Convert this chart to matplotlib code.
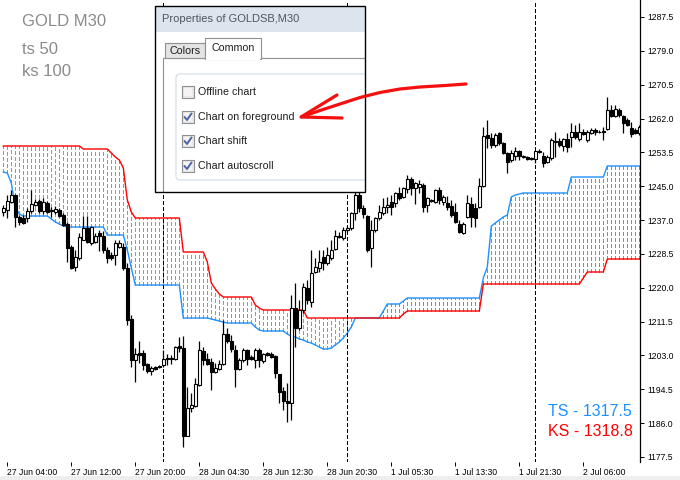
import numpy as np
import matplotlib.pyplot as plt
from matplotlib.patches import Rectangle, FancyBboxPatch

plt.rcParams['font.family'] = ['Liberation Sans', 'DejaVu Sans']
plt.rcParams['lines.scale_dashes'] = False

# GOLD M30 candles, bar index 0..159
opens = [1238.75, 1239.25, 1241.25, 1243.0, 1237.5, 1237.25, 1237.25, 1239.0, 1240.5, 1241.5,
         1239.0, 1241.0, 1239.0, 1238.75, 1239.25, 1238.0, 1235.75, 1230.0, 1225.0, 1227.25,
         1231.75, 1234.75, 1231.0, 1231.25, 1233.5, 1232.75, 1229.25, 1228.0, 1228.0, 1230.0,
         1230.0, 1224.75, 1212.0, 1201.75, 1203.5, 1203.5, 1200.75, 1199.0, 1200.0, 1200.25,
         1200.5, 1202.25, 1202.25, 1202.0, 1205.25, 1204.75, 1182.75, 1189.75, 1190.25, 1195.5,
         1204.0, 1202.0, 1201.25, 1198.75, 1199.5, 1200.75, 1208.25, 1206.5, 1204.25, 1199.5,
         1201.75, 1204.25, 1202.5, 1201.75, 1204.25, 1201.5, 1203.5, 1203.25, 1202.75, 1198.25,
         1194.0, 1191.5, 1191.0, 1214.75, 1209.75, 1214.25, 1219.75, 1216.25, 1223.75, 1224.75,
         1227.5, 1226.0, 1227.25, 1229.5, 1232.75, 1232.25, 1234.25, 1234.75, 1238.5, 1243.0,
         1239.75, 1237.75, 1229.75, 1234.25, 1237.25, 1238.5, 1240.0, 1241.25, 1241.0, 1243.5,
         1242.5, 1244.5, 1247.0, 1244.75, 1245.0, 1245.5, 1240.5, 1241.75, 1241.25, 1244.25,
         1241.25, 1241.0, 1240.25, 1238.75, 1235.75, 1233.5, 1237.5, 1240.75, 1239.75, 1240.0,
         1245.25, 1258.0, 1257.25, 1255.5, 1258.5, 1256.0, 1253.5, 1251.75, 1252.75, 1254.0,
         1252.75, 1252.5, 1252.0, 1252.0, 1254.0, 1252.75, 1251.25, 1252.25, 1256.5, 1256.5,
         1255.25, 1257.0, 1257.5, 1258.75, 1257.0, 1258.75, 1256.75, 1258.5, 1259.25, 1258.75,
         1259.0, 1259.5, 1264.25, 1262.75, 1264.25, 1262.75, 1261.75, 1259.75, 1259.25, 1258.5]
highs = [1240.5, 1243.0, 1244.25, 1243.25, 1238.0, 1238.0, 1239.75, 1244.25, 1242.0, 1242.0,
         1242.25, 1241.5, 1240.0, 1240.25, 1239.75, 1238.5, 1236.25, 1230.5, 1229.25, 1233.5,
         1237.75, 1237.75, 1235.25, 1233.5, 1234.25, 1234.0, 1230.0, 1228.75, 1231.75, 1231.75,
         1231.0, 1226.0, 1213.0, 1204.75, 1206.5, 1204.25, 1201.0, 1200.25, 1200.25, 1200.5,
         1204.25, 1203.25, 1203.0, 1205.25, 1207.5, 1207.75, 1195.0, 1193.5, 1197.25, 1206.5,
         1205.0, 1203.5, 1202.25, 1201.0, 1201.75, 1211.75, 1209.75, 1208.0, 1205.5, 1202.25,
         1204.75, 1204.5, 1203.0, 1204.75, 1204.75, 1203.5, 1203.75, 1203.75, 1203.0, 1198.25,
         1195.0, 1196.0, 1218.0, 1221.0, 1216.75, 1221.0, 1221.75, 1229.25, 1227.25, 1229.25,
         1229.25, 1230.0, 1231.75, 1234.25, 1233.75, 1235.0, 1235.25, 1238.75, 1245.5, 1245.25,
         1240.5, 1238.0, 1236.75, 1237.5, 1240.5, 1242.25, 1242.5, 1243.0, 1243.75, 1245.0,
         1245.0, 1248.0, 1247.5, 1246.25, 1246.75, 1246.0, 1242.5, 1242.0, 1244.5, 1245.0,
         1243.0, 1242.75, 1241.75, 1241.0, 1236.75, 1236.25, 1243.0, 1242.5, 1241.0, 1247.25,
         1260.0, 1261.75, 1258.5, 1258.5, 1258.75, 1256.25, 1253.75, 1254.25, 1255.0, 1254.25,
         1253.0, 1252.75, 1252.5, 1254.25, 1254.5, 1253.75, 1253.0, 1257.25, 1258.75, 1257.25,
         1257.25, 1258.5, 1261.0, 1260.5, 1261.0, 1259.5, 1259.25, 1259.75, 1259.75, 1259.25,
         1260.0, 1267.5, 1265.5, 1265.5, 1264.75, 1263.0, 1262.25, 1261.25, 1259.75, 1260.5]
lows = [1237.75, 1237.25, 1241.0, 1235.0, 1235.5, 1235.75, 1236.25, 1238.5, 1240.25, 1238.5,
        1238.25, 1238.5, 1237.5, 1238.25, 1237.5, 1235.25, 1226.25, 1224.5, 1224.0, 1226.75,
        1231.75, 1231.0, 1230.5, 1231.0, 1229.0, 1228.5, 1226.0, 1226.75, 1225.5, 1229.75,
        1224.25, 1210.5, 1200.0, 1196.25, 1201.0, 1199.25, 1198.5, 1198.0, 1199.25, 1199.75,
        1200.0, 1200.5, 1200.75, 1201.75, 1203.75, 1180.0, 1182.75, 1188.75, 1190.0, 1195.25,
        1200.5, 1200.5, 1194.25, 1198.5, 1199.25, 1200.5, 1206.0, 1203.75, 1195.0, 1199.25,
        1201.25, 1200.5, 1201.75, 1199.75, 1200.0, 1201.0, 1202.75, 1202.25, 1197.25, 1191.0,
        1189.25, 1186.25, 1186.75, 1205.0, 1209.25, 1213.5, 1215.75, 1215.0, 1223.5, 1223.75,
        1224.25, 1225.5, 1226.75, 1229.25, 1232.25, 1231.75, 1233.75, 1234.25, 1236.75, 1238.75,
        1237.25, 1228.75, 1225.0, 1233.75, 1236.75, 1238.0, 1238.5, 1238.0, 1240.0, 1241.75,
        1242.25, 1243.5, 1243.0, 1240.75, 1243.5, 1238.75, 1238.75, 1241.25, 1241.0, 1240.75,
        1240.5, 1239.25, 1237.5, 1236.0, 1233.5, 1233.25, 1237.25, 1235.0, 1235.0, 1239.75,
        1245.0, 1254.75, 1254.75, 1255.0, 1255.5, 1253.25, 1248.5, 1251.25, 1251.75, 1251.75,
        1252.25, 1251.75, 1251.75, 1251.0, 1253.5, 1250.0, 1251.0, 1251.75, 1252.5, 1255.0,
        1254.0, 1253.75, 1255.0, 1257.0, 1256.5, 1258.0, 1256.25, 1258.25, 1258.0, 1258.5,
        1256.75, 1259.25, 1262.5, 1262.5, 1262.5, 1258.5, 1260.25, 1257.5, 1258.25, 1258.0]
closes = [1239.75, 1241.5, 1243.0, 1237.5, 1236.25, 1236.0, 1239.0, 1240.75, 1241.25, 1239.0,
          1241.25, 1238.75, 1239.25, 1239.5, 1237.75, 1235.5, 1229.75, 1224.75, 1227.5, 1232.5,
          1234.75, 1231.25, 1235.0, 1232.75, 1232.75, 1229.25, 1227.25, 1227.25, 1231.0, 1231.0,
          1224.75, 1211.75, 1201.75, 1203.25, 1203.0, 1200.5, 1199.0, 1199.75, 1199.5, 1200.0,
          1202.0, 1202.0, 1202.0, 1205.0, 1204.75, 1182.75, 1189.75, 1190.5, 1195.75, 1204.25,
          1201.75, 1200.75, 1198.75, 1199.75, 1200.75, 1208.25, 1206.5, 1204.5, 1199.5, 1201.75,
          1204.25, 1202.0, 1202.0, 1204.25, 1201.75, 1203.25, 1203.0, 1202.5, 1198.5, 1193.75,
          1191.5, 1191.0, 1214.75, 1209.75, 1214.25, 1220.0, 1216.75, 1223.5, 1225.0, 1226.25,
          1226.0, 1228.0, 1229.25, 1232.75, 1232.5, 1234.25, 1234.75, 1238.5, 1243.0, 1239.75,
          1238.25, 1229.25, 1234.25, 1237.25, 1238.75, 1240.0, 1240.5, 1240.0, 1243.5, 1242.25,
          1244.75, 1247.0, 1244.75, 1246.0, 1245.75, 1240.0, 1242.25, 1241.5, 1244.25, 1241.75,
          1242.5, 1240.0, 1238.0, 1236.25, 1233.75, 1235.75, 1241.0, 1237.5, 1237.25, 1245.25,
          1257.75, 1257.25, 1255.5, 1258.0, 1256.0, 1253.5, 1251.25, 1253.5, 1254.0, 1252.75,
          1252.5, 1252.0, 1252.25, 1254.0, 1253.75, 1251.0, 1252.5, 1256.75, 1256.25, 1255.5,
          1257.0, 1255.0, 1258.75, 1257.5, 1258.75, 1258.25, 1258.75, 1259.25, 1258.75, 1258.75,
          1258.75, 1264.25, 1262.75, 1264.5, 1263.0, 1261.0, 1260.5, 1258.25, 1258.5, 1260.0]

# indicator lines (ts 50 / ks 100)
ts_line = [1248.75, 1248.5, 1246.0, 1239.75, 1238.25, 1237.75, 1237.75, 1237.75, 1237.75, 1237.75,
           1237.75, 1237.75, 1237.0, 1236.25, 1235.75, 1235.25, 1235.0, 1235.0, 1235.0, 1235.0,
           1235.0, 1235.0, 1235.0, 1235.0, 1235.0, 1235.0, 1233.0, 1233.0, 1233.0, 1233.0,
           1233.0, 1229.25, 1224.75, 1220.5, 1220.5, 1220.5, 1220.5, 1220.5, 1220.5, 1220.5,
           1220.5, 1220.5, 1220.5, 1220.5, 1220.5, 1212.25, 1212.25, 1212.25, 1212.25, 1212.25,
           1212.25, 1212.25, 1212.0, 1211.75, 1211.5, 1211.25, 1211.0, 1211.0, 1211.0, 1211.0,
           1211.0, 1211.0, 1211.0, 1210.0, 1209.25, 1209.0, 1209.0, 1209.0, 1209.0, 1209.0,
           1209.0, 1208.25, 1207.75, 1207.5, 1207.0, 1206.75, 1206.25, 1206.0, 1205.5, 1205.0,
           1204.5, 1204.5, 1204.75, 1205.5, 1206.25, 1207.25, 1208.5, 1210.0, 1212.25, 1212.25,
           1212.25, 1212.25, 1212.25, 1212.25, 1212.25, 1214.0, 1215.75, 1215.75, 1215.75, 1215.75,
           1216.5, 1217.25, 1217.25, 1217.25, 1217.25, 1217.25, 1217.25, 1217.25, 1217.25, 1217.25,
           1217.25, 1217.25, 1217.25, 1217.25, 1217.25, 1217.25, 1217.25, 1217.25, 1217.25, 1217.25,
           1222.25, 1225.0, 1235.25, 1236.0, 1236.75, 1237.5, 1238.0, 1242.5, 1243.0, 1243.25,
           1243.5, 1243.5, 1243.5, 1243.5, 1243.5, 1243.5, 1243.5, 1243.5, 1243.5, 1243.5,
           1243.5, 1243.5, 1247.5, 1247.5, 1247.5, 1247.5, 1247.5, 1247.5, 1247.5, 1247.5,
           1247.5, 1250.25, 1250.25, 1250.25, 1250.25, 1250.25, 1250.25, 1250.25, 1250.25, 1250.25]
ks_line = [1255.25, 1255.25, 1255.25, 1255.25, 1255.25, 1255.25, 1255.25, 1255.25, 1255.25, 1255.25,
           1255.25, 1255.25, 1255.25, 1255.25, 1255.25, 1255.25, 1255.25, 1255.25, 1255.25, 1255.25,
           1254.5, 1254.5, 1254.5, 1254.5, 1254.5, 1254.5, 1254.5, 1253.5, 1252.5, 1251.75,
           1249.75, 1241.75, 1238.75, 1237.25, 1237.25, 1237.25, 1237.25, 1237.25, 1237.25, 1237.25,
           1237.25, 1237.25, 1237.25, 1237.25, 1237.25, 1228.75, 1228.75, 1228.75, 1228.75, 1228.75,
           1228.75, 1226.25, 1221.0, 1219.5, 1218.25, 1217.5, 1217.5, 1217.5, 1217.5, 1217.5,
           1217.5, 1217.5, 1217.5, 1215.5, 1214.75, 1214.25, 1214.25, 1214.25, 1214.25, 1214.25,
           1214.25, 1214.25, 1214.25, 1214.25, 1214.25, 1214.25, 1212.25, 1212.25, 1212.25, 1212.25,
           1212.25, 1212.25, 1212.25, 1212.25, 1212.25, 1212.25, 1212.25, 1212.25, 1212.25, 1212.25,
           1212.25, 1212.25, 1212.25, 1212.25, 1212.25, 1212.25, 1212.25, 1212.25, 1212.25, 1212.25,
           1213.25, 1214.0, 1214.0, 1214.0, 1214.0, 1214.0, 1214.0, 1214.0, 1214.0, 1214.0,
           1214.0, 1214.0, 1214.0, 1214.0, 1214.0, 1214.0, 1214.0, 1214.0, 1214.0, 1214.0,
           1220.75, 1220.75, 1220.75, 1220.75, 1220.75, 1220.75, 1220.75, 1220.75, 1220.75, 1220.75,
           1220.75, 1220.75, 1220.75, 1220.75, 1220.75, 1220.75, 1220.75, 1220.75, 1220.75, 1220.75,
           1220.75, 1220.75, 1220.75, 1220.75, 1220.75, 1222.25, 1223.75, 1223.75, 1223.75, 1223.75,
           1223.75, 1227.0, 1227.0, 1227.0, 1227.0, 1227.0, 1227.0, 1227.0, 1227.0, 1227.0]

separators = [40, 86, 133]
xtick_pos = [1, 17, 33, 49, 65, 81, 97, 113, 129, 145]
xtick_labels = ['27 Jun 04:00', '27 Jun 12:00', '27 Jun 20:00', '28 Jun 04:30', '28 Jun 12:30',
                '28 Jun 20:30', '1 Jul 05:30', '1 Jul 13:30', '1 Jul 21:30', '2 Jul 06:00']
ytick_labels = ['1287.5', '1279.0', '1270.5', '1262.0', '1253.5', '1245.0', '1237.0',
                '1228.5', '1220.0', '1211.5', '1203.0', '1194.5', '1186.0', '1177.5']

fig = plt.figure(figsize=(6.8, 4.8), dpi=100)
ax = fig.add_axes([0, 18 / 480, 640 / 680, 462 / 480])
ax.set_xlim(-0.83, 159.17)
ax.set_ylim(1176.25, 1291.75)

x = np.arange(len(opens))
o = np.array(opens); h = np.array(highs); l = np.array(lows); c = np.array(closes)
ts = np.array(ts_line); ks = np.array(ks_line)

# dotted fill between the two lines
red_up = ks > ts
blue_up = ts > ks
ax.vlines(x[red_up], ts[red_up], ks[red_up], colors='#EE68A6', lw=0.75,
          linestyles=(0, (2.2, 1.5)), antialiased=False, zorder=1)
ax.vlines(x[blue_up], ks[blue_up], ts[blue_up], colors='#6690E2', lw=0.75,
          linestyles=(0, (2.2, 1.5)), antialiased=False, zorder=1)

ax.plot(x, ts, color='#1E90FF', lw=1.0, zorder=2)
ax.plot(x, ks, color='#FF0000', lw=1.0, zorder=2)

# day separators
ax.vlines(separators, 1176.25, 1291.75, colors='black', lw=0.75,
          linestyles=(0, (2.2, 1.5)), antialiased=False, zorder=2.5)

# candles
ax.vlines(x, l, h, colors='black', lw=0.9, zorder=3)
up = c >= o
ax.bar(x[up], c[up] - o[up], bottom=o[up], width=0.6, facecolor='white',
       edgecolor='black', lw=0.8, zorder=4)
ax.bar(x[~up], c[~up] - o[~up], bottom=o[~up], width=0.6, facecolor='black',
       edgecolor='black', lw=0.8, zorder=4)

for s in ['left', 'top', 'bottom']:
    ax.spines[s].set_visible(False)
ax.spines['right'].set_linewidth(0.9)

ax.yaxis.tick_right()
ax.set_yticks(np.linspace(1287.5, 1177.5, len(ytick_labels)))
ax.set_yticklabels(ytick_labels)
ax.set_xticks(xtick_pos)
ax.set_xticklabels(xtick_labels, ha='left')
ax.tick_params(axis='y', direction='out', length=3, width=0.7, labelsize=6.2, pad=2)
ax.tick_params(axis='x', direction='out', length=3, width=0.7, labelsize=6.2, pad=1.5)

# overlay in pixel units for captions, dialog and arrow
ov = fig.add_axes([0, 0, 1, 1], zorder=5)
ov.set_xlim(0, 680)
ov.set_ylim(480, 0)
ov.axis('off')

ov.add_patch(Rectangle((0, 476), 680, 4, facecolor='#EEEEEE', edgecolor='none'))

grey = '#8A8A8A'
ov.text(22, 21, 'GOLD M30', fontsize=12, color=grey, va='center')
ov.text(22, 50, 'ts 50', fontsize=12, color=grey, va='center')
ov.text(22, 72, 'ks 100', fontsize=12, color=grey, va='center')
ov.text(548, 411, 'TS - 1317.5', fontsize=11.5, color='#1E90FF', va='center')
ov.text(548, 432, 'KS - 1318.8', fontsize=11.5, color='#FF0000', va='center')

# properties dialog
clip = Rectangle((155, 6), 210, 186, transform=ov.transData)
def add(p):
    ov.add_patch(p)
    p.set_clip_path(clip)
    return p

add(Rectangle((155, 6), 210, 186, facecolor='white', edgecolor='none'))
add(Rectangle((155, 6), 210, 26, facecolor='#DCE5EE', edgecolor='none'))
add(Rectangle((163, 58), 220, 150, facecolor='white', edgecolor='#8E9096', lw=0.8))
add(Rectangle((165, 43), 40, 15, facecolor='#E4E4E4', edgecolor='#8E9096', lw=0.8))
add(Rectangle((205, 38), 56, 21, facecolor='white', edgecolor='#8E9096', lw=0.8))
add(Rectangle((205.8, 57), 54.4, 3, facecolor='white', edgecolor='none'))
add(FancyBboxPatch((176, 74), 220, 106, boxstyle='round,pad=0,rounding_size=4',
                   facecolor='none', edgecolor='#D3DCE3', lw=0.8))

dlg_font = dict(fontsize=7.7, color='#1E1E1E', va='center')
ov.text(162, 19.5, 'Properties of GOLDSB,M30', fontsize=8, color='#4E5660', va='center')
ov.text(185, 50.5, 'Colors', ha='center', **dlg_font)
ov.text(233, 48, 'Common', ha='center', **dlg_font)

options = ['Offline chart', 'Chart on foreground', 'Chart shift', 'Chart autoscroll']
checked = [False, True, True, True]
box_tops = [86, 111, 135, 160]
for name, on, top in zip(options, checked, box_tops):
    add(Rectangle((182, top), 11.5, 11.5, facecolor='#E9E9E9', edgecolor='#8E8F8F', lw=0.8))
    add(Rectangle((184, top + 2), 7.5, 7.5, facecolor='#F4F4F4', edgecolor='none'))
    if on:
        ov.plot([184.5, 187, 191.5], [top + 6, top + 9, top + 2.5], color='#4C64A8',
                lw=1.4, solid_capstyle='round')
    ov.text(198, top + 6, name, **dlg_font)

ov.add_patch(Rectangle((155, 6), 210, 186, facecolor='none', edgecolor='black', lw=1))

# red arrow
shaft_x = [466, 445, 420, 400, 380, 360, 340, 320, 301]
shaft_y = [84, 85.5, 87, 89, 92.5, 97.5, 104, 110.5, 117]
ov.plot(shaft_x, shaft_y, color='#F51010', lw=2.3, solid_capstyle='round')
ov.plot([337, 301, 342], [95, 117, 118], color='#F51010', lw=2.3,
        solid_capstyle='round', solid_joinstyle='miter')

fig.savefig('out.png', dpi=100)
